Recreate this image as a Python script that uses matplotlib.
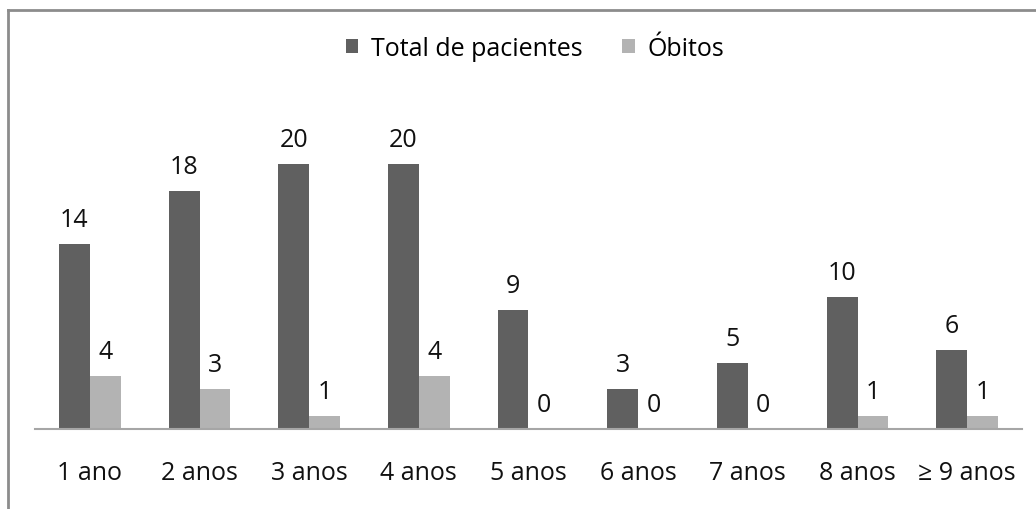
import numpy as np
import matplotlib
matplotlib.use("Agg")
import matplotlib.pyplot as plt
from matplotlib.lines import Line2D

plt.rcParams['font.family'] = ['Open Sans', 'DejaVu Sans']

# dados
categorias = ['1 ano', '2 anos', '3 anos', '4 anos', '5 anos', '6 anos', '7 anos', '8 anos', '≥ 9 anos']
total_pacientes = [14, 18, 20, 20, 9, 3, 5, 10, 6]
obitos = [4, 3, 1, 4, 0, 0, 0, 1, 1]

cor_total = '#606060'
cor_obitos = '#b3b3b3'
fs = 18

W, H = 1036, 510
fig = plt.figure(figsize=(W / 100, H / 100), dpi=100)
ax = fig.add_axes([35 / W, 80 / H, 987 / W, 331 / H])

x = np.arange(len(categorias))
w = 0.28
b1 = ax.bar(x - w / 2, total_pacientes, w, color=cor_total, label='Total de pacientes')
b2 = ax.bar(x + w / 2, obitos, w, color=cor_obitos, label='Óbitos')

# rótulos de valor
for barras, vals in [(b1, total_pacientes), (b2, obitos)]:
    for r, v in zip(barras, vals):
        ax.annotate(str(v), (r.get_x() + r.get_width() / 2, v), xytext=(0, 13),
                    textcoords='offset points', ha='center', va='baseline', fontsize=fs, color='#111111')

ax.set_xlim(-0.5, len(categorias) - 0.5)
ax.set_ylim(0, 25)
for s in ['top', 'right', 'left']:
    ax.spines[s].set_visible(False)
ax.spines['bottom'].set_color('#a6a6a6')
ax.spines['bottom'].set_linewidth(1.5)
ax.set_yticks([])
ax.set_xticks(x)
ax.set_xticklabels(categorias, fontsize=fs, color='#111111')
ax.tick_params(axis='x', length=0, pad=22)

fig.legend(loc='center', bbox_to_anchor=(535 / W, 1 - 49 / H), ncol=2, frameon=False,
           fontsize=fs, handlelength=0.5, handleheight=0.5, handletextpad=0.5, columnspacing=1.6)

# borda do gráfico (só esquerda e topo visíveis)
fig.add_artist(Line2D([8 / W, 8 / W], [0, 1 - 11 / H], color='#8c8c8c', lw=2, transform=fig.transFigure))
fig.add_artist(Line2D([8 / W, 1], [1 - 11 / H, 1 - 11 / H], color='#8c8c8c', lw=2, transform=fig.transFigure))

fig.savefig('out.png', dpi=100)
